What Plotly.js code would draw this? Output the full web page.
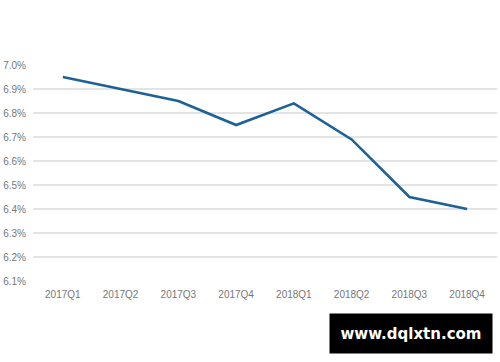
<!DOCTYPE html>
<html>
<head>
<meta charset="utf-8">
<script src="https://cdn.plot.ly/plotly-3.0.1.min.js"></script>
<style>html,body{margin:0;padding:0;background:#fff;}#chart{width:500px;height:362px;}</style>
</head>
<body>
<div id="chart"></div>
<script>
const categories = ["2017Q1","2017Q2","2017Q3","2017Q4","2018Q1","2018Q2","2018Q3","2018Q4"];
const growthRate = [6.95, 6.90, 6.85, 6.75, 6.84, 6.69, 6.45, 6.40];
const yTickValues = [6.1, 6.2, 6.3, 6.4, 6.5, 6.6, 6.7, 6.8, 6.9, 7.0];
const yTickLabels = ["6.1%","6.2%","6.3%","6.4%","6.5%","6.6%","6.7%","6.8%","6.9%","7.0%"];
const watermark = "www.dqlxtn.com";

const trace = {
  x: categories,
  y: growthRate,
  type: "scatter",
  mode: "lines",
  line: {color: "#1d6196", width: 2.6},
  hoverinfo: "skip"
};

const layout = {
  width: 500,
  height: 362,
  margin: {l: 33, r: 3, t: 65, b: 81},
  paper_bgcolor: "#ffffff",
  plot_bgcolor: "#ffffff",
  showlegend: false,
  font: {family: "Liberation Sans, Arial, sans-serif", color: "#777777", size: 10},
  xaxis: {
    type: "category",
    range: [-0.517, 7.517],
    showgrid: false,
    zeroline: false,
    showline: false,
    ticks: "",
    tickfont: {size: 10, color: "#777777"},
    ticklabelstandoff: 6
  },
  yaxis: {
    range: [6.1, 7.0],
    tickvals: yTickValues,
    ticktext: yTickLabels,
    showgrid: true,
    gridcolor: "#e4e4e4",
    gridwidth: 1.5,
    zeroline: false,
    showline: false,
    ticks: "",
    tickfont: {size: 10, color: "#777777"},
    ticklabelstandoff: 6
  },
  annotations: [{
    xref: "paper", yref: "paper",
    x: (411 - 33) / 464, y: -(333 - 281) / 216,
    xanchor: "center", yanchor: "middle",
    text: "<b>" + watermark + "</b>",
    showarrow: false,
    font: {family: "DejaVu Sans, sans-serif", size: 15, color: "#ffffff"},
    bgcolor: "#000000",
    width: 162, height: 39,
    borderpad: 0
  }]
};

Plotly.newPlot("chart", [trace], layout, {displayModeBar: false, staticPlot: true});
</script>
</body>
</html>
